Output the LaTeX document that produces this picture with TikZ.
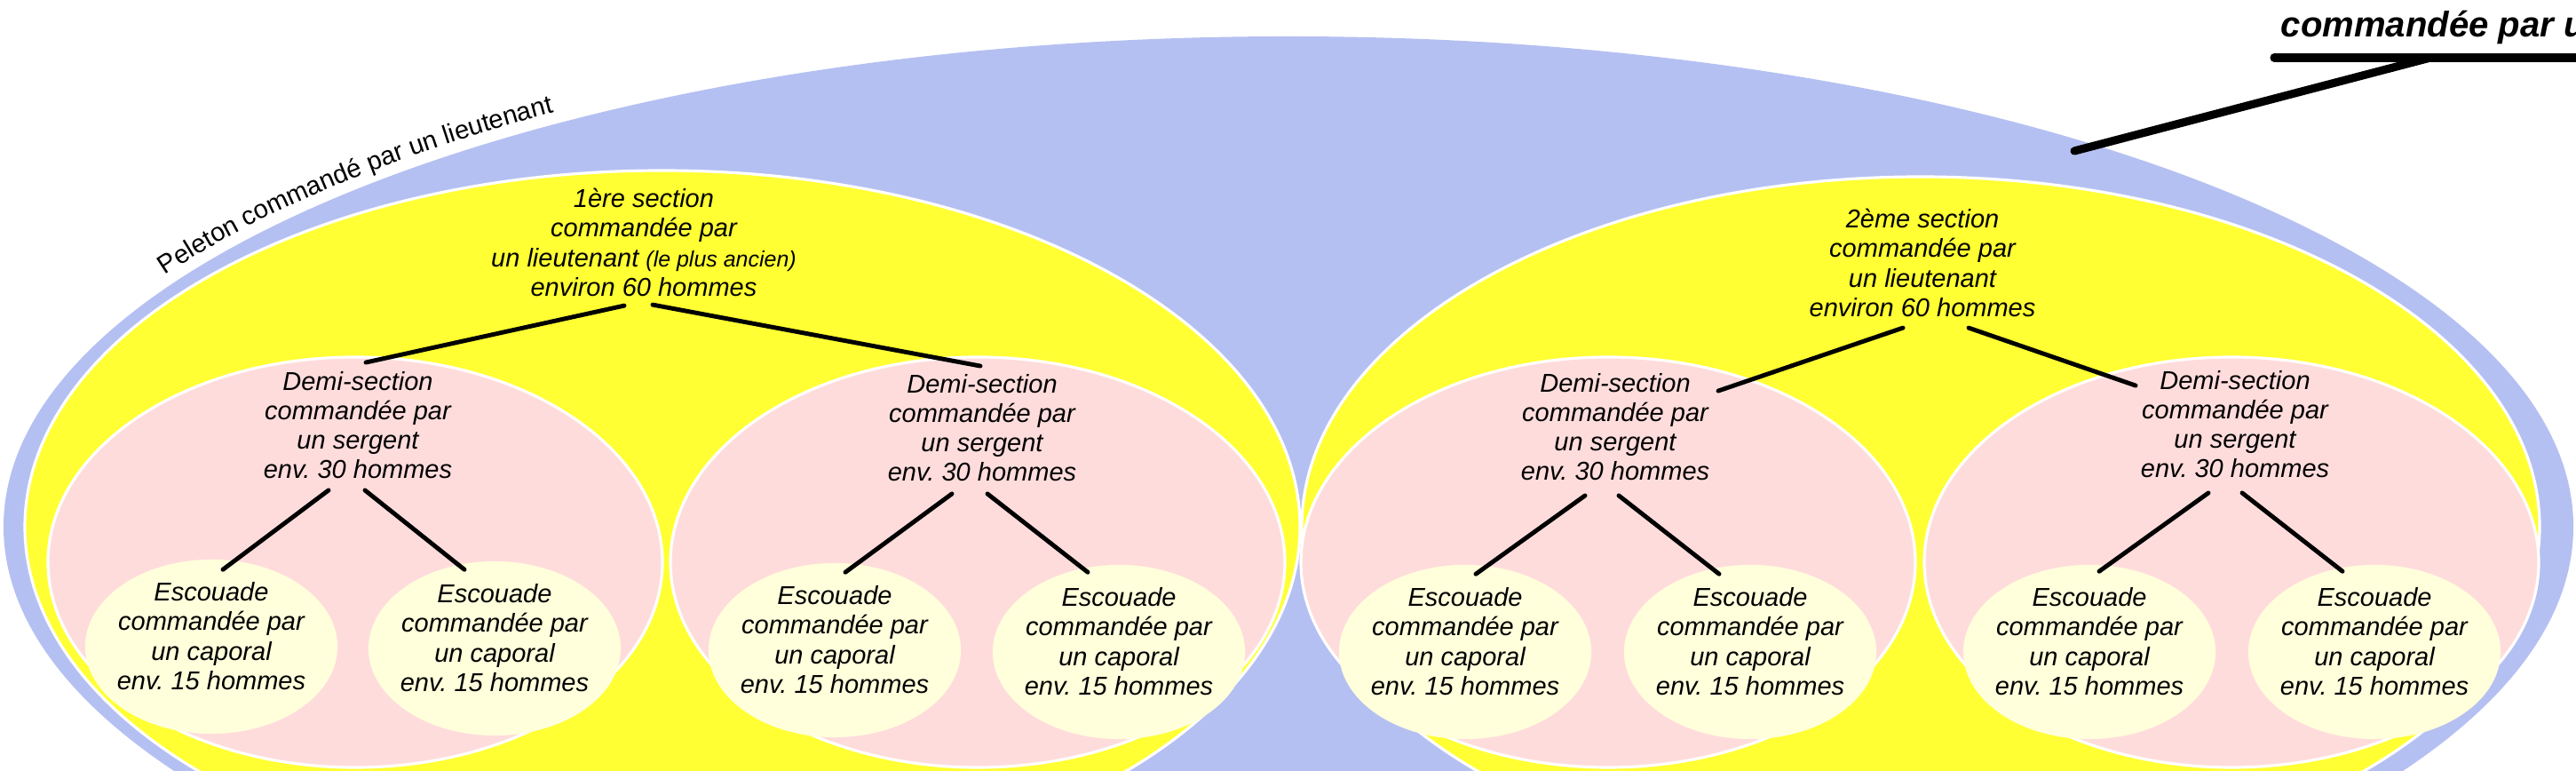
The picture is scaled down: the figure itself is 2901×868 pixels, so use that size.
\documentclass[tikz,border=0pt]{standalone}
\usepackage{fontspec}
\setmainfont{Liberation Sans}
\usetikzlibrary{shapes.geometric,decorations.text}
\definecolor{PeletonBlue}  {RGB}{181,192,242}
\definecolor{SectionYellow}{RGB}{255,255,51}
\definecolor{DemiPink}     {RGB}{255,220,220}
\definecolor{EscouadeCream}{RGB}{255,255,220}

\begin{document}
\frenchspacing
\begin{tikzpicture}[x=0.01cm,y=0.01cm,
  sectionzone/.style={fill=SectionYellow,draw=white,line width=0.9pt},
  demizone/.style={fill=DemiPink,draw=white,line width=0.9pt},
  txt/.style={inner sep=0pt,align=center,font=\fontsize{8.25}{9.4}\selectfont\itshape},
  escouade/.style={txt,ellipse,fill=EscouadeCream,minimum width=2.84cm,
                   minimum height=1.96cm,inner xsep=-0.09cm,inner ysep=-0.05cm,
                   text depth=0.24cm},
  link/.style={line width=1.4pt,line cap=round},
  callout/.style={line width=2.6pt,line cap=round}
]
  \useasboundingbox (0,0) rectangle (2901,-868);
  \clip (0,0) rectangle (2901,-868);

  % peloton
  \fill[PeletonBlue] (1451,-593) ellipse [x radius=1447, y radius=552];
  \path[shift={(1451,-593)},decorate,
        decoration={text along path,
          text={|\fontsize{8.3}{10}\selectfont|Peleton commandé par un lieutenant}}]
    (150:1461 and 566) arc [start angle=150, end angle=115, x radius=1461, y radius=566];

  % sections and half-sections
  \path[sectionzone] (746,-593)  ellipse [x radius=718, y radius=401];
  \path[sectionzone] (2163,-593) ellipse [x radius=697, y radius=394];
  \path[demizone] (400,-633)  ellipse [x radius=346, y radius=231];
  \path[demizone] (1101,-633) ellipse [x radius=346, y radius=231];
  \path[demizone] (1811,-633) ellipse [x radius=346, y radius=231];
  \path[demizone] (2513,-633) ellipse [x radius=346, y radius=231];

  \node[txt] (secA) at (725,-273)
        {1ère section\\commandée par\\un lieutenant {\fontsize{7.1}{9.4}\selectfont(le plus ancien)}\\environ 60 hommes};
  \node[txt] (secB) at (2165,-296) {2ème section\\commandée par\\un lieutenant\\environ 60 hommes};

  \node[txt] (demiA) at (403,-479)  {Demi-section\\commandée par\\un sergent\\env. 30 hommes};
  \node[txt] (demiB) at (1106,-482) {Demi-section\\commandée par\\un sergent\\env. 30 hommes};
  \node[txt] (demiC) at (1819,-481) {Demi-section\\commandée par\\un sergent\\env. 30 hommes};
  \node[txt] (demiD) at (2517,-478) {Demi-section\\commandée par\\un sergent\\env. 30 hommes};

  % squads
  \node[escouade] (escA) at (238,-728)  {Escouade\\commandée par\\un caporal\\env. 15 hommes};
  \node[escouade] (escB) at (557,-730)  {Escouade\\commandée par\\un caporal\\env. 15 hommes};
  \node[escouade] (escC) at (940,-732)  {Escouade\\commandée par\\un caporal\\env. 15 hommes};
  \node[escouade] (escD) at (1260,-734) {Escouade\\commandée par\\un caporal\\env. 15 hommes};
  \node[escouade] (escE) at (1650,-734) {Escouade\\commandée par\\un caporal\\env. 15 hommes};
  \node[escouade] (escF) at (1971,-734) {Escouade\\commandée par\\un caporal\\env. 15 hommes};
  \node[escouade] (escG) at (2353,-734) {Escouade\\commandée par\\un caporal\\env. 15 hommes};
  \node[escouade] (escH) at (2674,-734) {Escouade\\commandée par\\un caporal\\env. 15 hommes};

  \draw[link] ([shift={(-22,-10)}]secA.south) -- ([shift={(9,10)}]demiA.north);
  \draw[link] ([shift={(10,-9)}]secA.south) -- ([shift={(-2,9)}]demiB.north);
  \draw[link] ([shift={(-22,-12)}]secB.south) -- ([shift={(116,-20)}]demiC.north);
  \draw[link] ([shift={(52,-12)}]secB.south) -- ([shift={(-112,-17)}]demiD.north);

  \draw[link] ([shift={(-33,-12)}]demiA.south) -- ([shift={(13,-12)}]escA.north);
  \draw[link] ([shift={(8,-12)}]demiA.south) -- ([shift={(-34,-10)}]escB.north);
  \draw[link] ([shift={(-34,-13)}]demiB.south) -- ([shift={(12,-11)}]escC.north);
  \draw[link] ([shift={(6,-13)}]demiB.south) -- ([shift={(-35,-9)}]escD.north);
  \draw[link] ([shift={(-34,-16)}]demiC.south) -- ([shift={(12,-11)}]escE.north);
  \draw[link] ([shift={(4,-16)}]demiC.south) -- ([shift={(-35,-11)}]escF.north);
  \draw[link] ([shift={(-30,-16)}]demiD.south) -- ([shift={(11,-8)}]escG.north);
  \draw[link] ([shift={(8,-16)}]demiD.south) -- ([shift={(-36,-8)}]escH.north);

  % company callout
  \node[anchor=base west,inner sep=0pt,font=\fontsize{11.4}{13}\selectfont\bfseries\itshape]
        (cie) at (2568,-42) {commandée par u};
  \coordinate (cieL) at (2561,-65);
  \coordinate (cieR) at (2930,-65);
  \coordinate (elbow) at (2737,-65);
  \coordinate (pointer) at (2336,-170);
  \draw[callout] (cieL) -- (cieR);
  \draw[callout] (pointer) -- (elbow);
\end{tikzpicture}
\end{document}
